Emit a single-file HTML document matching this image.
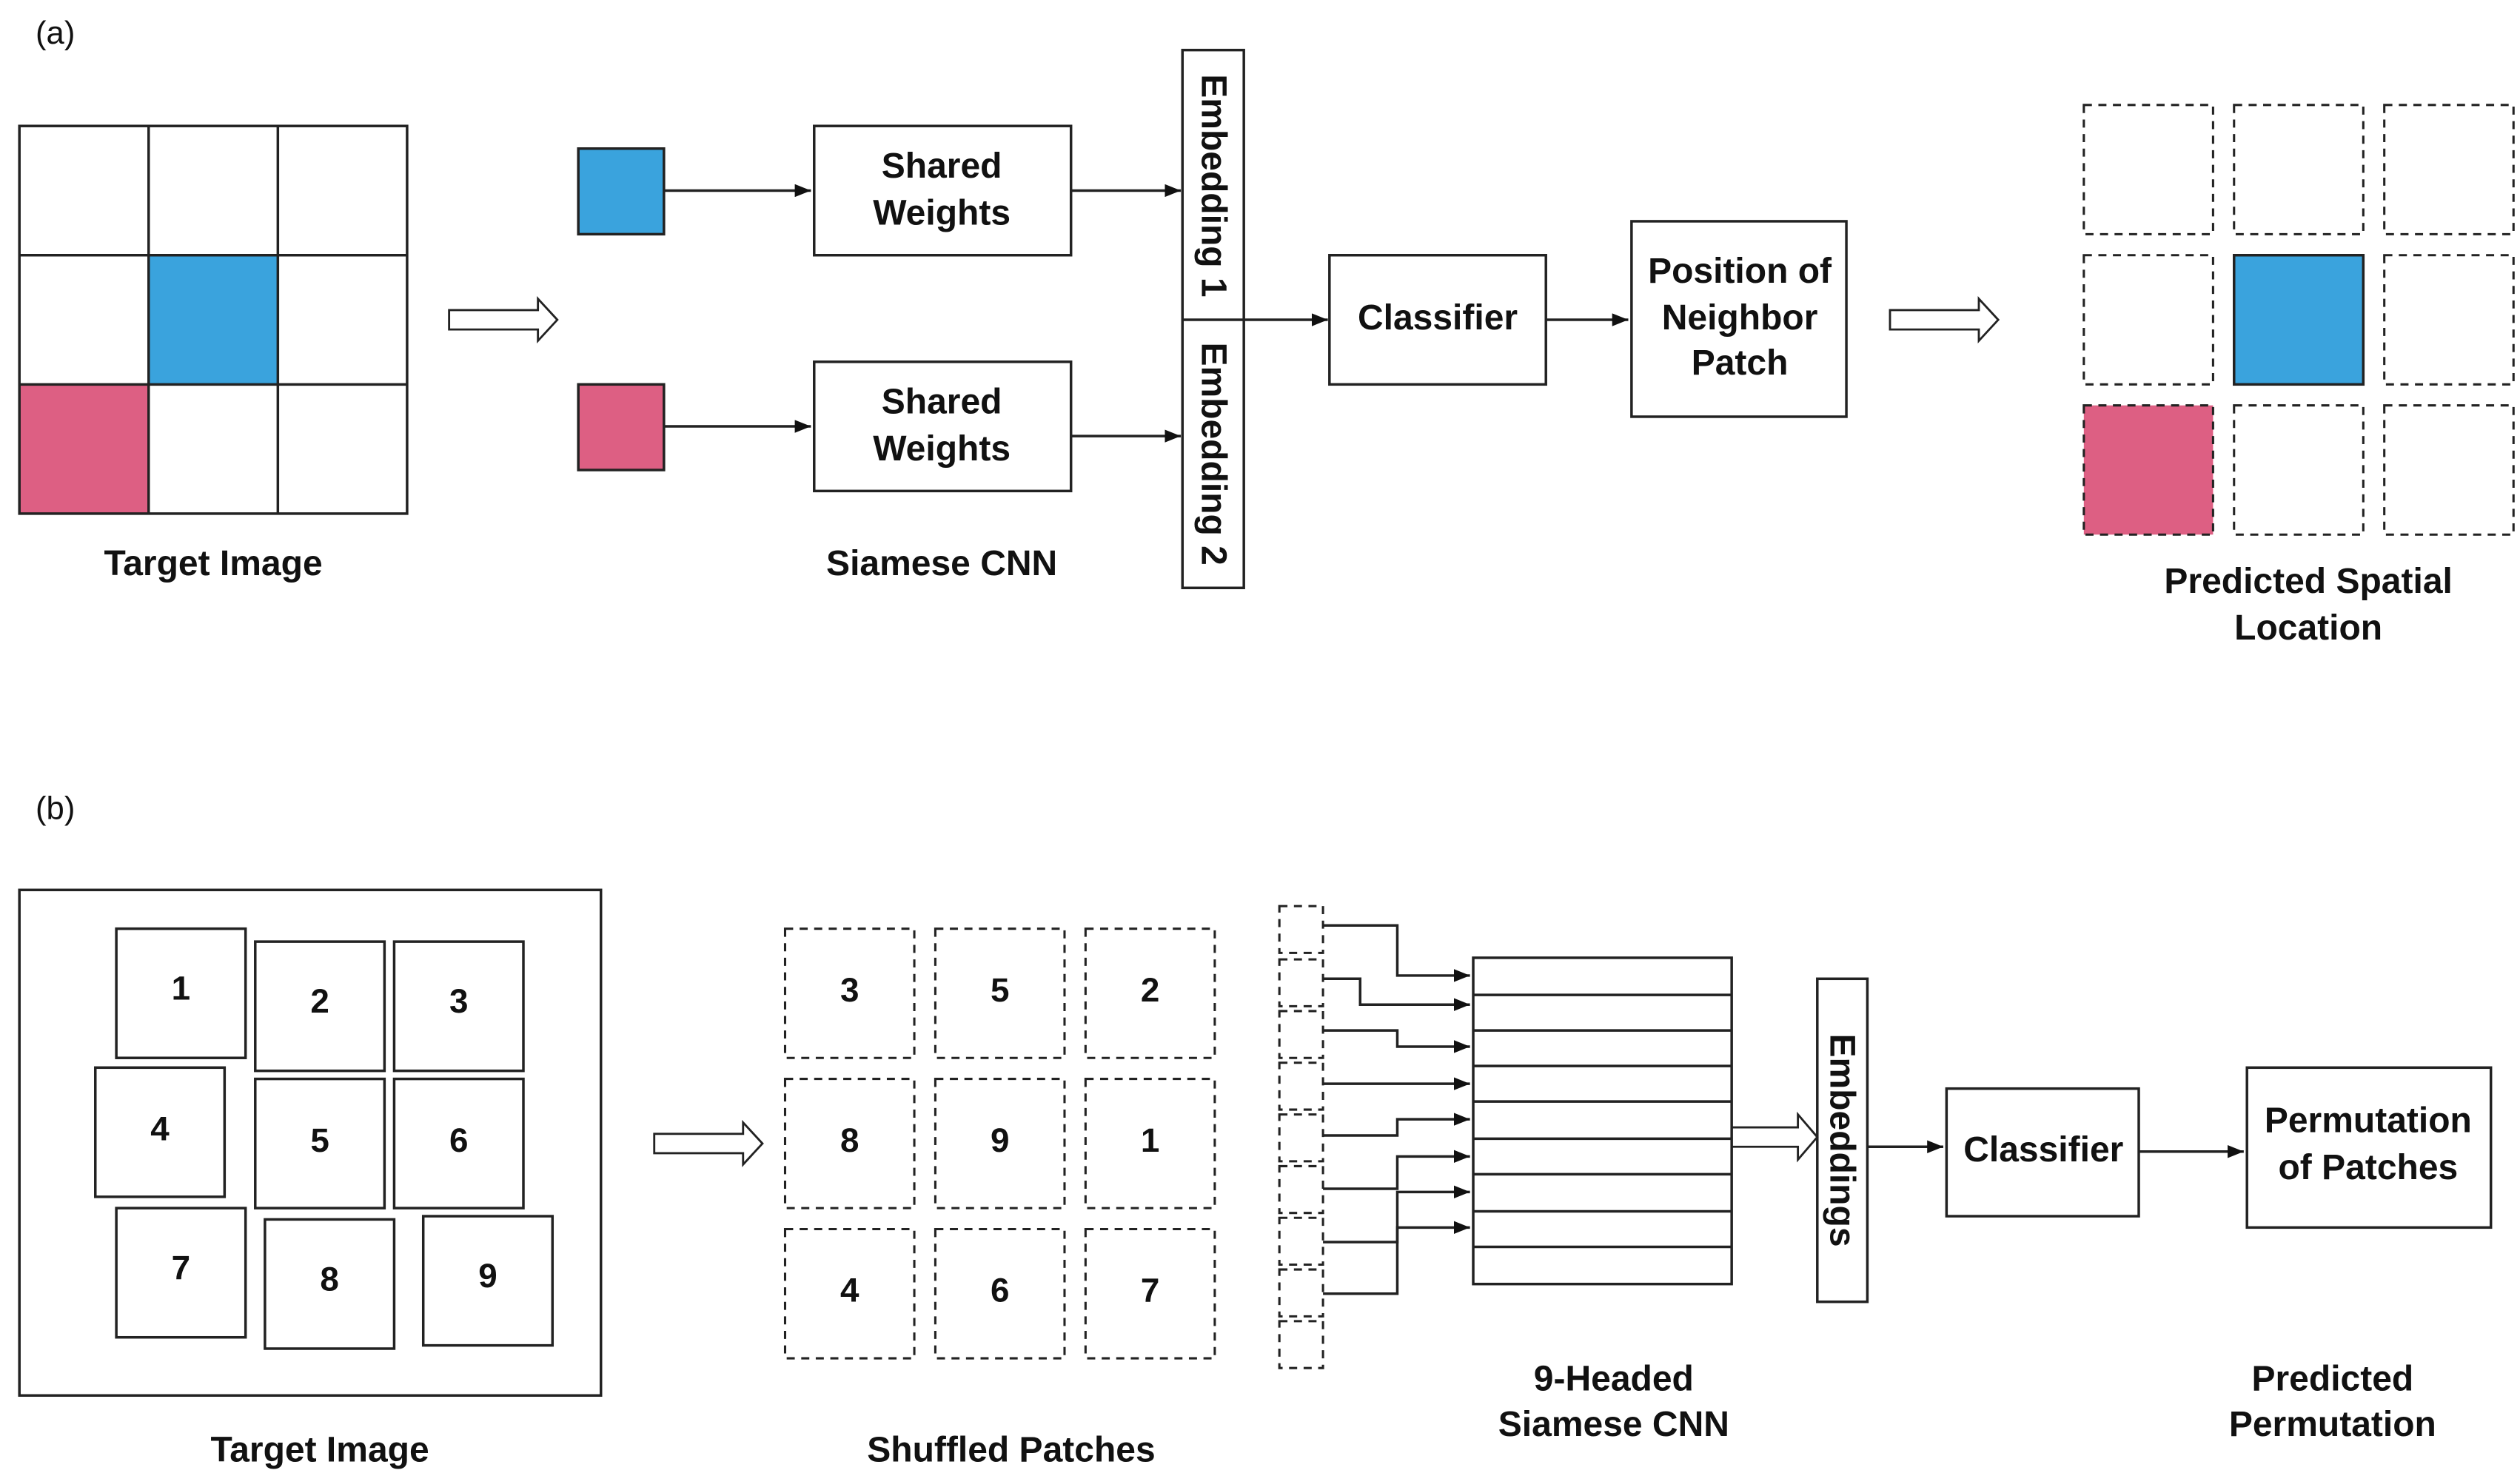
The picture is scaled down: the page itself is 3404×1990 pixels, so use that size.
<!DOCTYPE html>
<html><head><meta charset="utf-8"><style>
html,body{margin:0;padding:0;background:#fff;}
svg{display:block;}
text{font-family:"Liberation Sans",sans-serif;fill:#111;}
.b{font-weight:bold;font-size:22px;text-anchor:middle;}
.n{font-weight:bold;font-size:21px;text-anchor:middle;}
</style></head><body>
<svg width="3404" height="1990" viewBox="0 0 1560 912" xmlns="http://www.w3.org/2000/svg">
<defs>
<marker id="ah" markerWidth="10" markerHeight="8" refX="10" refY="4" orient="auto" markerUnits="userSpaceOnUse">
<path d="M0,0 L10,4 L0,8 z" fill="#111"/></marker>
</defs>
<g stroke="#222" stroke-width="1.6" fill="none">
<!-- (a) target grid -->
<rect x="92" y="158" width="80" height="80" fill="#3aa3dd" stroke="none"/>
<rect x="12" y="238" width="80" height="80" fill="#dd5f83" stroke="none"/>
<rect x="12" y="78" width="240" height="240"/>
<line x1="92" y1="78" x2="92" y2="318"/><line x1="172" y1="78" x2="172" y2="318"/>
<line x1="12" y1="158" x2="252" y2="158"/><line x1="12" y1="238" x2="252" y2="238"/>
<!-- hollow arrow -->
<path d="M278,192 L333,192 L333,185 L345,198 L333,211 L333,204 L278,204 Z" stroke-width="1.3"/>
<rect x="358" y="92" width="53" height="53" fill="#3aa3dd"/>
<rect x="358" y="238" width="53" height="53" fill="#dd5f83"/>
<line x1="411" y1="118" x2="502" y2="118" marker-end="url(#ah)"/>
<line x1="411" y1="264" x2="502" y2="264" marker-end="url(#ah)"/>
<rect x="504" y="78" width="159" height="80"/>
<rect x="504" y="224" width="159" height="80"/>
<line x1="663" y1="118" x2="731" y2="118" marker-end="url(#ah)"/>
<line x1="663" y1="270" x2="731" y2="270" marker-end="url(#ah)"/>
<rect x="732" y="31" width="38" height="333"/>
<line x1="732" y1="198" x2="770" y2="198"/>
<line x1="770" y1="198" x2="822" y2="198" marker-end="url(#ah)"/>
<rect x="823" y="158" width="134" height="80"/>
<line x1="957" y1="198" x2="1008" y2="198" marker-end="url(#ah)"/>
<rect x="1010" y="137" width="133" height="121"/>
<path d="M1170,192 L1225,192 L1225,185 L1237,198 L1225,211 L1225,204 L1170,204 Z" stroke-width="1.3"/>
<!-- predicted grid -->
<g stroke-dasharray="5,4" stroke-width="1.4">
<rect x="1290" y="65" width="80" height="80"/><rect x="1383" y="65" width="80" height="80"/><rect x="1476" y="65" width="80" height="80"/>
<rect x="1290" y="158" width="80" height="80"/><rect x="1476" y="158" width="80" height="80"/>
<rect x="1290" y="251" width="80" height="80" fill="#dd5f83"/><rect x="1383" y="251" width="80" height="80"/><rect x="1476" y="251" width="80" height="80"/>
</g>
<rect x="1383" y="158" width="80" height="80" fill="#3aa3dd"/>

<!-- (b) -->
<rect x="12" y="551" width="360" height="313"/>
<rect x="72" y="575" width="80" height="80"/><rect x="158" y="583" width="80" height="80"/><rect x="244" y="583" width="80" height="80"/>
<rect x="59" y="661" width="80" height="80"/><rect x="158" y="668" width="80" height="80"/><rect x="244" y="668" width="80" height="80"/>
<rect x="72" y="748" width="80" height="80"/><rect x="164" y="755" width="80" height="80"/><rect x="262" y="753" width="80" height="80"/>
<path d="M405,702 L460,702 L460,695 L472,708 L460,721 L460,714 L405,714 Z" stroke-width="1.3"/>
<g stroke-dasharray="5,4" stroke-width="1.4">
<rect x="486" y="575" width="80" height="80"/><rect x="579" y="575" width="80" height="80"/><rect x="672" y="575" width="80" height="80"/>
<rect x="486" y="668" width="80" height="80"/><rect x="579" y="668" width="80" height="80"/><rect x="672" y="668" width="80" height="80"/>
<rect x="486" y="761" width="80" height="80"/><rect x="579" y="761" width="80" height="80"/><rect x="672" y="761" width="80" height="80"/>
<rect x="792" y="561" width="27" height="29"/><rect x="792" y="594" width="27" height="29"/><rect x="792" y="626" width="27" height="29"/>
<rect x="792" y="658" width="27" height="29"/><rect x="792" y="690" width="27" height="29"/><rect x="792" y="722" width="27" height="29"/>
<rect x="792" y="754" width="27" height="29"/><rect x="792" y="786" width="27" height="29"/><rect x="792" y="818" width="27" height="29"/>
</g>
<!-- connectors -->
<polyline points="819,573 865,573 865,604 910,604" marker-end="url(#ah)"/>
<polyline points="819,606 842,606 842,622 910,622" marker-end="url(#ah)"/>
<polyline points="819,638 865,638 865,648 910,648" marker-end="url(#ah)"/>
<polyline points="819,671 910,671" marker-end="url(#ah)"/>
<polyline points="819,703 865,703 865,693 910,693" marker-end="url(#ah)"/>
<polyline points="819,736 865,736 865,716 910,716" marker-end="url(#ah)"/>
<polyline points="819,769 865,769 865,738 910,738" marker-end="url(#ah)"/>
<polyline points="819,801 865,801 865,760 910,760" marker-end="url(#ah)"/>
<!-- stack -->
<rect x="912" y="593" width="160" height="202"/>
<line x1="912" y1="616" x2="1072" y2="616"/><line x1="912" y1="638" x2="1072" y2="638"/>
<line x1="912" y1="660" x2="1072" y2="660"/><line x1="912" y1="682" x2="1072" y2="682"/>
<line x1="912" y1="705" x2="1072" y2="705"/><line x1="912" y1="727" x2="1072" y2="727"/>
<line x1="912" y1="750" x2="1072" y2="750"/><line x1="912" y1="772" x2="1072" y2="772"/>
<path d="M1072,698 L1113,698 L1113,690 L1125,704 L1113,718 L1113,710 L1072,710" stroke-width="1.3"/>
<rect x="1125" y="606" width="31" height="200"/>
<line x1="1156" y1="710" x2="1203" y2="710" marker-end="url(#ah)"/>
<rect x="1205" y="674" width="119" height="79"/>
<line x1="1324" y1="713" x2="1389" y2="713" marker-end="url(#ah)"/>
<rect x="1391" y="661" width="151" height="99"/>
</g>

<text x="22" y="27" font-size="20" fill="#333">(a)</text>
<text x="22" y="507" font-size="20" fill="#333">(b)</text>
<text class="b" x="132" y="356">Target Image</text>
<text class="b" x="583" y="110">Shared</text><text class="b" x="583" y="139">Weights</text>
<text class="b" x="583" y="256">Shared</text><text class="b" x="583" y="285">Weights</text>
<text class="b" x="583" y="356">Siamese CNN</text>
<text class="b" transform="translate(744,115) rotate(90)">Embedding 1</text>
<text class="b" transform="translate(744,281) rotate(90)">Embedding 2</text>
<text class="b" x="890" y="204">Classifier</text>
<text class="b" x="1077" y="175">Position of</text><text class="b" x="1077" y="204">Neighbor</text><text class="b" x="1077" y="232">Patch</text>
<text class="b" x="1429" y="367">Predicted Spatial</text><text class="b" x="1429" y="396">Location</text>

<text class="n" x="112" y="619">1</text><text class="n" x="198" y="627">2</text><text class="n" x="284" y="627">3</text>
<text class="n" x="99" y="706">4</text><text class="n" x="198" y="713">5</text><text class="n" x="284" y="713">6</text>
<text class="n" x="112" y="792">7</text><text class="n" x="204" y="799">8</text><text class="n" x="302" y="797">9</text>
<text class="b" x="198" y="905">Target Image</text>
<text class="n" x="526" y="620">3</text><text class="n" x="619" y="620">5</text><text class="n" x="712" y="620">2</text>
<text class="n" x="526" y="713">8</text><text class="n" x="619" y="713">9</text><text class="n" x="712" y="713">1</text>
<text class="n" x="526" y="806">4</text><text class="n" x="619" y="806">6</text><text class="n" x="712" y="806">7</text>
<text class="b" x="626" y="905">Shuffled Patches</text>
<text class="b" x="999" y="861">9-Headed</text><text class="b" x="999" y="889">Siamese CNN</text>
<text class="b" transform="translate(1133,706) rotate(90)">Embeddings</text>
<text class="b" x="1265" y="719">Classifier</text>
<text class="b" x="1466" y="701">Permutation</text><text class="b" x="1466" y="730">of Patches</text>
<text class="b" x="1444" y="861">Predicted</text><text class="b" x="1444" y="889">Permutation</text>
</svg>
</body></html>
